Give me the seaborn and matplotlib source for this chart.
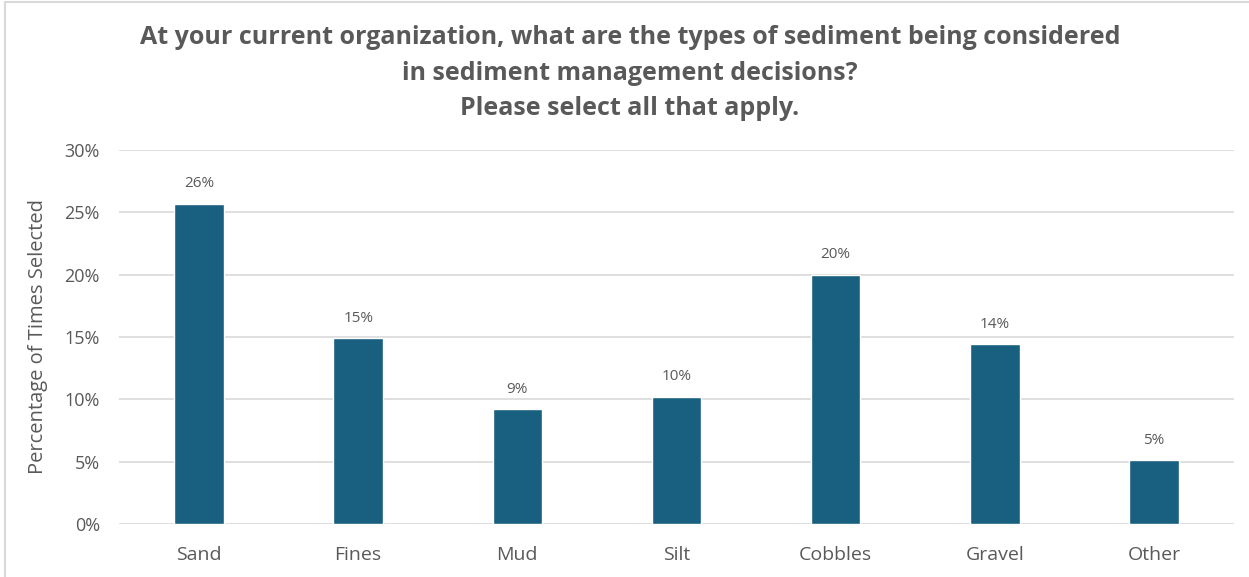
import matplotlib
matplotlib.use("Agg")
import matplotlib.pyplot as plt
import seaborn as sns
import pandas as pd
from matplotlib.patches import Rectangle
from matplotlib.ticker import PercentFormatter

categories = ["Sand", "Fines", "Mud", "Silt", "Cobbles", "Gravel", "Other"]
values = [25.7, 14.9, 9.2, 10.2, 20.0, 14.4, 5.1]
labels = ["26%", "15%", "9%", "10%", "20%", "14%", "5%"]
yticks = [0, 5, 10, 15, 20, 25, 30]

sns.set_theme(style="white")
plt.rcParams['font.family'] = ['Open Sans', 'DejaVu Sans']

grey = "#595959"
fig = plt.figure(figsize=(12.49, 5.77), dpi=100)
fig.patches.append(Rectangle((5/1249, -0.1), 1.2, 1.1 - 2/577, transform=fig.transFigure,
                             fill=False, edgecolor="#d9d9d9", linewidth=1.5))
ax = fig.add_axes([119.4/1249, 53/577, 1114.2/1249, 374/577])

df = pd.DataFrame({"cat": categories, "val": values})
sns.barplot(data=df, x="cat", y="val", color="#185f80", saturation=1, width=0.31, ax=ax, zorder=3)

for i, (v, lab) in enumerate(zip(values, labels)):
    ax.text(i, v + 1.0, lab, ha="center", va="bottom", fontsize=11, color=grey)

ax.set_ylim(0, 30)
ax.set_yticks(yticks)
ax.yaxis.set_major_formatter(PercentFormatter(decimals=0))
ax.grid(axis="y", color="#d9d9d9", linewidth=1.2, zorder=0)
for s in ax.spines.values():
    s.set_visible(False)
ax.tick_params(axis="y", labelsize=13, labelcolor=grey, length=0, pad=14)
ax.tick_params(axis="x", labelsize=14, labelcolor=grey, length=0, pad=16)
ax.set_xlabel("")
ax.set_ylabel("Percentage of Times Selected", fontsize=14.5, color=grey, labelpad=12)

title = ("At your current organization, what are the types of sediment being considered\n"
         "in sediment management decisions?\nPlease select all that apply.")
fig.text(630/1249, 1 - 73/577, title, ha="center", va="center", fontsize=18,
         fontweight="bold", color=grey, linespacing=1.55)

fig.savefig("out.png", dpi=100, facecolor="white")
